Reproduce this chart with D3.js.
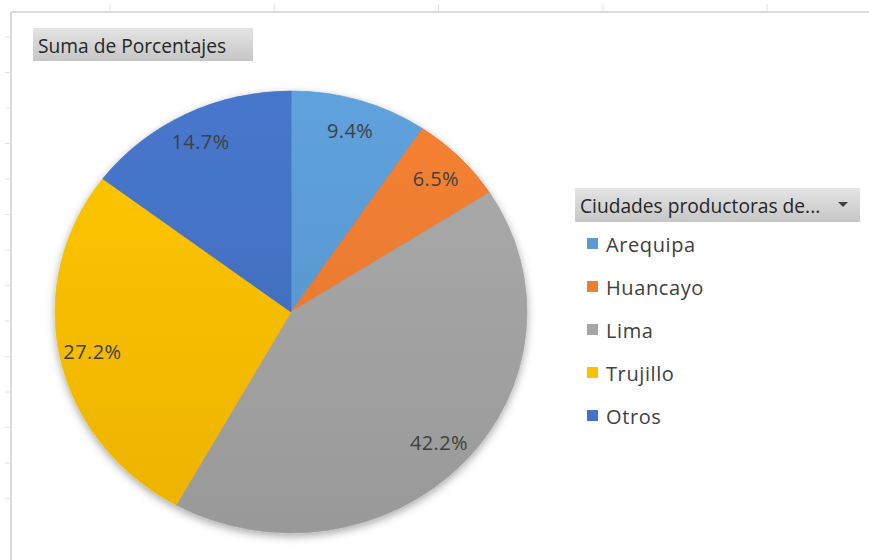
<!DOCTYPE html>
<html>
<head>
<meta charset="utf-8">
<script src="https://cdn.jsdelivr.net/npm/d3@7"></script>
<style>
  html, body { margin: 0; padding: 0; background: #ffffff; }
  svg { display: block; }
  text { font-family: "Open Sans", "Noto Sans", sans-serif; }
</style>
</head>
<body>
<svg id="chart" width="869" height="560"></svg>
<script>
const categories = ["Arequipa", "Huancayo", "Lima", "Trujillo", "Otros"];
const values = [9.4, 6.5, 42.2, 27.2, 14.7];
const colors = ["#5B9BD5", "#ED7D31", "#A5A5A5", "#FFC000", "#4472C4"];
const chartTitle = "Suma de Porcentajes";
const legendTitle = "Ciudades productoras de...";

const svg = d3.select("#chart");
const W = 869, H = 560;
const defs = svg.append("defs");

// sheet frame with gridline ticks
const frame = svg.append("g");
frame.append("line").attr("x1", 11).attr("x2", W).attr("y1", 12).attr("y2", 12)
  .attr("stroke", "#dadada").attr("stroke-width", 2);
frame.append("line").attr("x1", 11).attr("x2", 11).attr("y1", 12).attr("y2", H)
  .attr("stroke", "#dadada").attr("stroke-width", 2);
const rowY = d3.range(14).map(i => 37 + i * 35.5);
frame.selectAll(".rt").data(rowY).join("line")
  .attr("x1", 5).attr("x2", 11).attr("y1", d => d).attr("y2", d => d)
  .attr("stroke", "#e2e2e2").attr("stroke-width", 1);
const colX = d3.range(5).map(i => 110 + i * 164.3);
frame.selectAll(".ct").data(colX).join("line")
  .attr("x1", d => d).attr("x2", d => d).attr("y1", 4).attr("y2", 12)
  .attr("stroke", "#e2e2e2").attr("stroke-width", 1);

// pie
const cx = 291, cy = 312, R = 221, sx = 236 / 221;
const pie = d3.pie().sort(null).value(d => d.v);
const data = pie(categories.map((c, i) => ({ c, v: values[i], col: colors[i] })));
const arc = d3.arc().innerRadius(0).outerRadius(R);
const labelArc = d3.arc().innerRadius(R * 0.86).outerRadius(R * 0.86);

const shadow = defs.append("filter").attr("id", "shadow")
  .attr("x", "-20%").attr("y", "-20%").attr("width", "140%").attr("height", "140%");
shadow.append("feDropShadow").attr("dx", 0).attr("dy", 3).attr("stdDeviation", 4)
  .attr("flood-color", "#000").attr("flood-opacity", 0.35);

data.forEach((d, i) => {
  const g = defs.append("linearGradient").attr("id", "grad" + i)
    .attr("gradientUnits", "userSpaceOnUse")
    .attr("x1", 0).attr("y1", -R).attr("x2", 0).attr("y2", R);
  g.append("stop").attr("offset", "0%").attr("stop-color", d3.color(colors[i]).brighter(0.12));
  g.append("stop").attr("offset", "100%").attr("stop-color", d3.color(colors[i]).darker(0.22));
});

const pieG = svg.append("g")
  .attr("transform", `translate(${cx},${cy}) scale(${sx},1)`)
  .attr("filter", "url(#shadow)");
pieG.selectAll("path").data(data).join("path")
  .attr("d", arc)
  .attr("fill", (d, i) => `url(#grad${i})`)
  .attr("stroke", (d, i) => d3.color(colors[i]).darker(0.1))
  .attr("stroke-width", 0.6);

svg.append("g").selectAll("text").data(data).join("text")
  .attr("x", d => cx + labelArc.centroid(d)[0] * sx)
  .attr("y", d => cy + labelArc.centroid(d)[1])
  .attr("text-anchor", "middle")
  .attr("dominant-baseline", "central")
  .attr("font-size", 20)
  .attr("letter-spacing", 0.4)
  .attr("fill", "#404040")
  .text(d => d.data.v.toFixed(1) + "%");

// title button
const btnGrad = defs.append("linearGradient").attr("id", "btn").attr("x1", 0).attr("y1", 0).attr("x2", 0).attr("y2", 1);
btnGrad.append("stop").attr("offset", "0%").attr("stop-color", "#e4e4e4");
btnGrad.append("stop").attr("offset", "100%").attr("stop-color", "#c6c6c6");

svg.append("rect").attr("x", 33).attr("y", 28).attr("width", 220).attr("height", 33)
  .attr("fill", "url(#btn)");
svg.append("text").attr("x", 38).attr("y", 45).attr("dominant-baseline", "central")
  .attr("font-size", 19.2).attr("fill", "#262626").text(chartTitle);

// legend
const lg = svg.append("g");
lg.append("rect").attr("x", 575).attr("y", 188).attr("width", 285).attr("height", 34)
  .attr("fill", "url(#btn)");
lg.append("text").attr("x", 580).attr("y", 205).attr("dominant-baseline", "central")
  .attr("font-size", 19.2).attr("fill", "#262626").text(legendTitle);
lg.append("path").attr("d", "M838,202 L848,202 L843,207 Z").attr("fill", "#404040");

const ly = d3.scalePoint().domain(categories).range([244, 416]);
const items = lg.selectAll(".item").data(categories).join("g").attr("class", "item");
items.append("rect").attr("x", 587).attr("y", d => ly(d) - 6).attr("width", 11).attr("height", 11)
  .attr("fill", (d, i) => colors[i]);
items.append("text").attr("x", 606).attr("y", d => ly(d)).attr("dominant-baseline", "central")
  .attr("font-size", 20).attr("letter-spacing", 0.6).attr("fill", "#404040").text(d => d);
</script>
</body>
</html>
